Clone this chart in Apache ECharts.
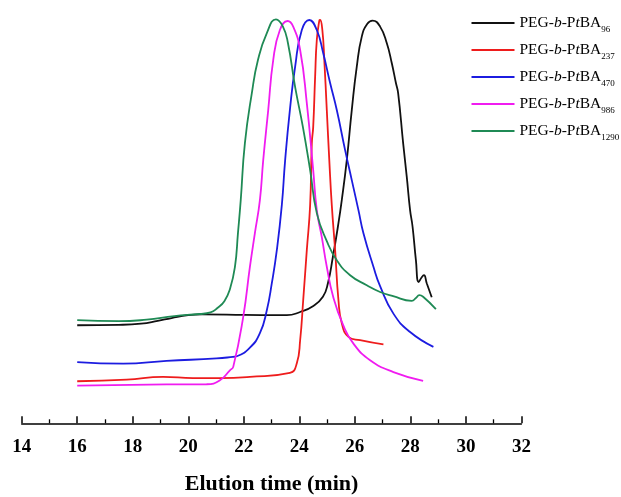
<!DOCTYPE html>
<html><head><meta charset="utf-8">
<script src="https://cdn.jsdelivr.net/npm/echarts@6/dist/echarts.min.js"></script>
<style>html,body{margin:0;padding:0;background:#fff}#c{width:621px;height:497px}</style>
</head><body><div id="c"></div>
<script>
// Tick range
const xMin = 14, xMax = 32, xStep = 2;
const xTitle = 'Elution time (min)';
const seriesNames = ['PEG-b-PtBA96','PEG-b-PtBA237','PEG-b-PtBA470','PEG-b-PtBA986','PEG-b-PtBA1290'];
const subs = ['96','237','470','986','1290'];
const colors = ['#111111','#ee1c1c','#1c1ce0','#f01cf0','#1f8a55'];

const s96 = [[16.0,24.5],[17.5,24.6],[18.3,24.9],[18.9,25.6],[19.4,26.3],[20.0,27.0],[20.5,27.2],[22.0,27.1],[23.55,27],[24.03,27.8],[24.49,29.25],[24.85,31.6],[25.03,35],[25.21,41.6],[25.39,49.1],[25.53,55.75],[25.71,65.75],[25.89,78.25],[26.07,89.1],[26.25,96.6],[26.45,99.8],[26.64,100.6],[26.91,99.1],[27.15,95],[27.33,90],[27.48,85],[27.56,82.5],[27.74,70],[27.87,61.6],[27.99,53.25],[28.08,49.1],[28.2,40.75],[28.3,35.3],[28.41,36.5],[28.49,37],[28.59,35],[28.77,31.5]];
const s237 = [[16.0,10.5],[17.78,10.9],[19.09,11.6],[20.17,11.3],[21.14,11.3],[22.22,11.6],[23.66,12.6],[23.91,15],[24.03,20.75],[24.14,30.75],[24.27,43.25],[24.39,54.5],[24.45,70],[24.5,74],[24.57,86.6],[24.63,95.75],[24.72,100.6],[24.75,100.75],[24.83,98.25],[24.9,90.75],[24.99,78.25],[25.08,65.75],[25.17,54.5],[25.29,43.25],[25.41,30.75],[25.53,25],[25.77,21.6],[26.19,20.75],[27.03,19.7]];
const s470 = [[16.0,15.3],[17.66,14.9],[19.22,15.6],[21.02,16.2],[21.61,16.6],[21.75,16.75],[22.22,18.9],[22.58,22.5],[22.83,28.25],[23.01,35],[23.19,43.25],[23.37,54.5],[23.49,65.75],[23.66,78.25],[23.85,89.1],[24.09,98.25],[24.36,100.75],[24.63,98.25],[24.86,92.5],[25.11,85],[25.35,78.25],[25.65,68.25],[25.89,60.75],[26.13,53.25],[26.31,47.5],[26.67,39.1],[26.91,34.25],[27.39,27.4],[27.99,22.8],[28.83,19.1]];
const s986 = [[16.0,9.4],[19.22,9.7],[20.66,9.75],[21.14,10.75],[21.5,13.25],[21.62,14.1],[21.98,26.6],[22.22,39.1],[22.4,47.5],[22.58,55.75],[22.7,65.75],[22.88,78.25],[23.06,90.75],[23.3,98.25],[23.58,100.5],[23.78,99.1],[24.03,93.25],[24.27,80],[24.5,63.25],[24.63,53.25],[24.81,46.5],[24.99,39.1],[25.22,31.6],[25.58,24.5],[25.95,19.9],[26.55,15.75],[27.39,12.8],[28.46,10.6]];
const s1290 = [[16.0,25.75],[17.5,25.5],[18.5,25.9],[19.5,26.8],[20.4,27.3],[20.8,27.7],[21.05,28.8],[21.3,30.5],[21.5,33.5],[21.68,39],[21.79,47.5],[21.89,55.75],[22.04,70],[22.29,82.5],[22.51,90.75],[22.83,97.5],[23.16,100.9],[23.41,99.1],[23.59,95],[23.85,84],[24.13,74],[24.39,63.25],[24.63,52.5],[24.99,45.5],[25.35,40.75],[25.83,37],[26.43,34.5],[26.91,32.8],[27.38,31.75],[28.05,30.6],[28.2,31.3],[28.32,32],[28.46,31.6],[28.92,28.5]];
const allData = [s96, s237, s470, s986, s1290];

const chart = echarts.init(document.getElementById('c'), null, {renderer:'canvas'});
const serif = '"Liberation Serif","Times New Roman",serif';
chart.setOption({
  animation:false,
  backgroundColor:'#fff',
  grid:{left:21.7, right:99.6, top:19, bottom:73.7, containLabel:false, outerBoundsMode:'none'},
  xAxis:{type:'value', min:xMin, max:xMax, interval:xStep,
    name:xTitle, nameLocation:'middle', nameGap:50,
    nameTextStyle:{fontFamily:serif, fontWeight:'bold', fontSize:22, color:'#000'},
    axisLine:{lineStyle:{color:'#000', width:1.5}},
    axisTick:{inside:true, length:7, lineStyle:{color:'#000', width:1.5}},
    minorTick:{show:true, splitNumber:2, length:4, lineStyle:{color:'#000', width:1.3}},
    axisLabel:{margin:14, fontFamily:serif, fontWeight:'bold', fontSize:19, color:'#000'},
    splitLine:{show:false}},
  yAxis:{type:'value', min:0, max:101, show:false},
  legend:{orient:'vertical', left:470.5, top:15, padding:0, itemWidth:43, itemHeight:14, itemGap:8,
    data:seriesNames,
    itemStyle:{opacity:0},
    formatter:function(name){ const i = seriesNames.indexOf(name); return '{a|PEG-}{i|b}{a|-P}{i|t}{a|BA}{s|'+subs[i]+'}'; },
    textStyle:{padding:[0,0,0,0], rich:{
      a:{fontFamily:serif, fontSize:15.5, color:'#000', lineHeight:18},
      i:{fontFamily:serif, fontSize:15.5, fontStyle:'italic', color:'#000', lineHeight:18},
      s:{fontFamily:serif, fontSize:9, color:'#000', lineHeight:18, verticalAlign:'bottom', padding:[0,0,-2,0]}
    }}},
  series: allData.map(function(d,i){ return {name:seriesNames[i], type:'line', data:d, symbol:'none', smooth:0.5,
    lineStyle:{color:colors[i], width:1.8}, itemStyle:{color:colors[i]}}; })
});
</script></body></html>
